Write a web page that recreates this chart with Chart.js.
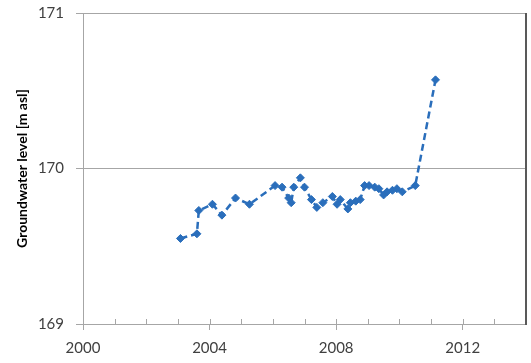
<!DOCTYPE html>
<html>
<head>
<meta charset="utf-8">
<script src="https://cdn.jsdelivr.net/npm/chart.js@4/dist/chart.umd.min.js"></script>
<style>
    html, body { margin: 0; padding: 0; background: #ffffff; }
    #wrap { width: 531px; height: 363px; position: relative; }
</style>
</head>
<body>
<div id="wrap"><canvas id="chart"></canvas></div>
<script>
// Measurement dates (decimal years) and groundwater levels [m asl]
const years = [
    2003.08, 2003.60, 2003.66, 2004.09, 2004.39, 2004.82, 2005.26,
    2006.07, 2006.29, 2006.50, 2006.58, 2006.66, 2006.87, 2007.00,
    2007.22, 2007.39, 2007.58, 2007.88, 2008.03, 2008.13, 2008.37,
    2008.45, 2008.62, 2008.76, 2008.90, 2009.04, 2009.22, 2009.35,
    2009.50, 2009.61, 2009.78, 2009.92, 2010.09, 2010.50, 2011.14
];
const levels = [
    169.55, 169.58, 169.73, 169.77, 169.70, 169.81, 169.77,
    169.89, 169.88, 169.81, 169.78, 169.88, 169.94, 169.88,
    169.80, 169.75, 169.78, 169.82, 169.77, 169.80, 169.74,
    169.78, 169.79, 169.80, 169.89, 169.89, 169.88, 169.87,
    169.83, 169.85, 169.86, 169.87, 169.85, 169.89, 170.57
];
const yearTicks = [2000, 2004, 2008, 2012];

const lineColor = '#2a6ebb';
const axisColor = '#a6a6a6';
const textColor = '#404040';

// Small inward tick marks on the x axis (one per year) and the dark right frame line
const frameExtras = {
    id: 'frameExtras',
    afterDraw(chart) {
        const ctx = chart.ctx;
        const x = chart.scales.x;
        const area = chart.chartArea;
        ctx.save();
        ctx.strokeStyle = axisColor;
        ctx.lineWidth = 1;
        for (let yr = 2001; yr < 2014; yr++) {
            const px = Math.round(x.getPixelForValue(yr)) + 0.5;
            ctx.beginPath();
            ctx.moveTo(px, area.bottom);
            ctx.lineTo(px, area.bottom - 5);
            ctx.stroke();
        }
        // right edge of the plot frame
        ctx.strokeStyle = '#595959';
        ctx.lineWidth = 2;
        ctx.beginPath();
        ctx.moveTo(area.right, area.top);
        ctx.lineTo(area.right, area.bottom + 1);
        ctx.stroke();
        ctx.restore();
    }
};

let ctx = document.getElementById('chart');

new Chart(ctx, {
    type: 'line',
    data: {
        datasets: [{
            label: 'Groundwater level',
            data: years.map((yr, i) => ({ x: yr, y: levels[i] })),
            borderColor: lineColor,
            backgroundColor: lineColor,
            borderWidth: 2.5,
            borderDash: [7, 4],
            pointStyle: 'rectRot',
            pointRadius: 4,
            pointBorderWidth: 1,
            pointBackgroundColor: lineColor,
            pointBorderColor: lineColor,
            tension: 0,
            fill: false
        }]
    },
    options: {
        responsive: true,
        maintainAspectRatio: false,
        animation: false,
        layout: {
            padding: { top: 13, right: 5, left: 0, bottom: 0 }
        },
        plugins: {
            legend: { display: false },
            tooltip: { enabled: false }
        },
        scales: {
            x: {
                type: 'linear',
                min: 2000,
                max: 2014,
                afterBuildTicks: (scale) => {
                    scale.ticks = yearTicks.map(v => ({ value: v }));
                },
                afterFit: (scale) => {
                    scale.height = 39;
                    scale.paddingLeft = 0;
                    scale.paddingRight = 0;
                },
                grid: {
                    drawOnChartArea: false,
                    drawTicks: true,
                    tickLength: 6,
                    color: axisColor
                },
                border: { color: axisColor, width: 1 },
                ticks: {
                    color: textColor,
                    font: { family: 'Lato', size: 15 },
                    padding: 9,
                    maxRotation: 0,
                    callback: v => String(v)
                }
            },
            y: {
                min: 169,
                max: 171,
                afterFit: (scale) => {
                    scale.width = 83;
                    scale.paddingTop = 0;
                    scale.paddingBottom = 0;
                },
                grid: {
                    color: axisColor,
                    tickLength: 7
                },
                border: { color: axisColor, width: 1 },
                ticks: {
                    stepSize: 1,
                    color: textColor,
                    font: { family: 'Lato', size: 15 },
                    padding: 12
                },
                title: {
                    display: true,
                    text: 'Groundwater level [m asl]',
                    color: '#000000',
                    font: { family: 'Lato', size: 14, weight: 'bold' },
                    padding: { top: 14, bottom: 0 }
                }
            }
        }
    },
    plugins: [frameExtras]
});
</script>
</body>
</html>
